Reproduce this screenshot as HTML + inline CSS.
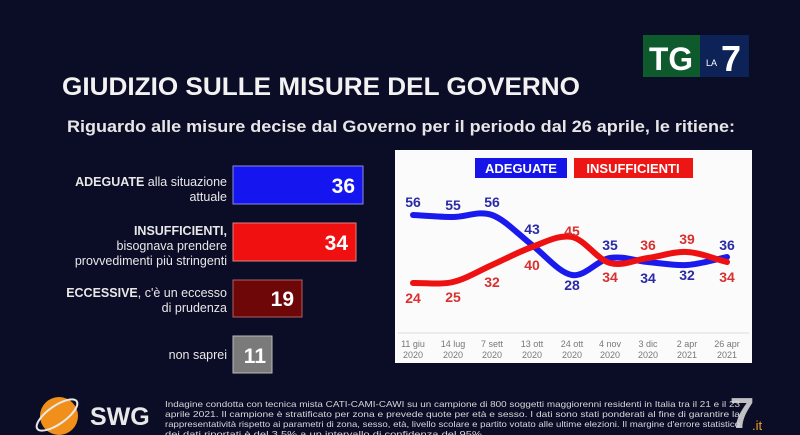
<!DOCTYPE html>
<html><head><meta charset="utf-8"><style>
html,body{margin:0;padding:0;background:#0b0c26;}
svg{display:block}
text{font-family:"Liberation Sans",sans-serif}
</style></head><body>
<svg width="800" height="435" viewBox="0 0 800 435" xmlns="http://www.w3.org/2000/svg">
<rect width="800" height="435" fill="#0b0c26"/>
<rect x="643" y="35" width="57" height="42" fill="#0e5a2c"/>
<rect x="700" y="35" width="49" height="42" fill="#0d2358"/>
<text x="671" y="70" font-size="32" font-weight="bold" fill="#fff" text-anchor="middle" textLength="44" lengthAdjust="spacingAndGlyphs">TG</text>
<text x="706" y="66" font-size="9" fill="#fff">LA</text>
<text x="731" y="71" font-size="36" font-weight="bold" fill="#fff" text-anchor="middle">7</text>
<text x="62" y="95" font-size="25" font-weight="bold" fill="#f2f2f2" textLength="518" lengthAdjust="spacingAndGlyphs">GIUDIZIO SULLE MISURE DEL GOVERNO</text>
<text x="67" y="132" font-size="17" font-weight="bold" fill="#e6e6e6" textLength="668" lengthAdjust="spacingAndGlyphs">Riguardo alle misure decise dal Governo per il periodo dal 26 aprile, le ritiene:</text>
<g font-size="12.5" fill="#e8e8e8" text-anchor="end">
<text x="227" y="186"><tspan font-weight="bold">ADEGUATE</tspan> alla situazione</text>
<text x="227" y="201">attuale</text>
<text x="227" y="235" font-weight="bold">INSUFFICIENTI,</text>
<text x="227" y="250">bisognava prendere</text>
<text x="227" y="265">provvedimenti più stringenti</text>
<text x="227" y="297"><tspan font-weight="bold">ECCESSIVE</tspan>, c'è un eccesso</text>
<text x="227" y="312">di prudenza</text>
<text x="227" y="359">non saprei</text>
</g>
<rect x="233" y="166" width="130" height="38" fill="#1515f0" stroke="#8a8ad8" stroke-width="1"/>
<rect x="233" y="223" width="123" height="38" fill="#f01010" stroke="#e08080" stroke-width="1"/>
<rect x="233" y="280" width="69" height="37" fill="#6e0808" stroke="#b06060" stroke-width="1"/>
<rect x="233" y="336" width="39" height="37" fill="#7a7a7a" stroke="#bbb" stroke-width="1"/>
<g font-size="21" font-weight="bold" fill="#fff" text-anchor="end">
<text x="355" y="193">36</text>
<text x="348" y="250">34</text>
<text x="294" y="306">19</text>
<text x="266" y="363">11</text>
</g>
<rect x="395" y="150" width="357" height="213" fill="#fbfbfb"/>
<rect x="475" y="158" width="92" height="20" fill="#1515e8"/>
<rect x="574" y="158" width="119" height="20" fill="#ee1515"/>
<text x="521" y="173" font-size="13" font-weight="bold" fill="#fff" text-anchor="middle">ADEGUATE</text>
<text x="633" y="173" font-size="13" font-weight="bold" fill="#fff" text-anchor="middle">INSUFFICIENTI</text>
<line x1="398" y1="333" x2="749" y2="333" stroke="#ddd" stroke-width="1"/>
<path d="M413,215 C426,215.7 440,217 453,217 C466,217 479,210.3 492,215 C505,219.7 519,235 532,245 C545,255 559,272.8 572,275 C585,277.2 597,260.2 610,258 C623,255.8 635,260.8 648,262 C661,263.2 674,265.8 687,265 C700,264.2 714,259.7 727,257" fill="none" stroke="#1a1aee" stroke-width="6" stroke-linecap="round"/>
<path d="M413,283 C426,282.7 440,285 453,282 C466,279 479,270.8 492,265 C505,259.2 519,251.7 532,247 C545,242.3 559,234.3 572,237 C585,239.7 597,259.5 610,263 C623,266.5 635,259.8 648,258 C661,256.2 674,251.3 687,252 C700,252.7 714,258.7 727,262" fill="none" stroke="#ee1111" stroke-width="6" stroke-linecap="round"/>
<g font-size="14" font-weight="bold" fill="#2a2aa8" text-anchor="middle">
<text x="413" y="207">56</text><text x="453" y="210">55</text><text x="492" y="207">56</text>
<text x="532" y="234">43</text><text x="572" y="290">28</text><text x="610" y="250">35</text>
<text x="648" y="283">34</text><text x="687" y="280">32</text><text x="727" y="250">36</text>
</g>
<g font-size="14" font-weight="bold" fill="#d83030" text-anchor="middle">
<text x="413" y="303">24</text><text x="453" y="302">25</text><text x="492" y="287">32</text>
<text x="532" y="270">40</text><text x="572" y="236">45</text><text x="610" y="282">34</text>
<text x="648" y="250">36</text><text x="687" y="244">39</text><text x="727" y="282">34</text>
</g>
<g font-size="9" fill="#777" text-anchor="middle">
<text x="413" y="347">11 giu</text><text x="413" y="358">2020</text>
<text x="453" y="347">14 lug</text><text x="453" y="358">2020</text>
<text x="492" y="347">7 sett</text><text x="492" y="358">2020</text>
<text x="532" y="347">13 ott</text><text x="532" y="358">2020</text>
<text x="572" y="347">24 ott</text><text x="572" y="358">2020</text>
<text x="610" y="347">4 nov</text><text x="610" y="358">2020</text>
<text x="648" y="347">3 dic</text><text x="648" y="358">2020</text>
<text x="687" y="347">2 apr</text><text x="687" y="358">2021</text>
<text x="727" y="347">26 apr</text><text x="727" y="358">2021</text>
</g>
<circle cx="59" cy="416" r="19" fill="#f0901a"/>
<ellipse cx="57" cy="415" rx="24" ry="9" fill="none" stroke="#e8e8e8" stroke-width="2" transform="rotate(-35 57 415)"/>
<text x="90" y="425" font-size="25" font-weight="bold" fill="#e8e8e8">SWG</text>
<g font-size="8.5" fill="#d8d8d8">
<text x="165" y="407" textLength="575" lengthAdjust="spacingAndGlyphs">Indagine condotta con tecnica mista CATI-CAMI-CAWI su un campione di 800 soggetti maggiorenni residenti in Italia tra il 21 e il 23</text>
<text x="165" y="417" textLength="575" lengthAdjust="spacingAndGlyphs">aprile 2021. Il campione è stratificato per zona e prevede quote per età e sesso. I dati sono stati ponderati al fine di garantire la</text>
<text x="165" y="427" textLength="575" lengthAdjust="spacingAndGlyphs">rappresentatività rispetto ai parametri di zona, sesso, età, livello scolare e partito votato alle ultime elezioni. Il margine d'errore statistico</text>
<text x="165" y="437" font-size="8.5" textLength="320" lengthAdjust="spacingAndGlyphs">dei dati riportati è del 3,5% a un intervallo di confidenza del 95%.</text>
</g>
<text x="742" y="428" font-size="44" font-weight="bold" fill="#e0e0e0" text-anchor="middle" opacity="0.85">7</text>
<text x="752" y="430" font-size="13" fill="#f0a020">.it</text>
</svg>
</body></html>
